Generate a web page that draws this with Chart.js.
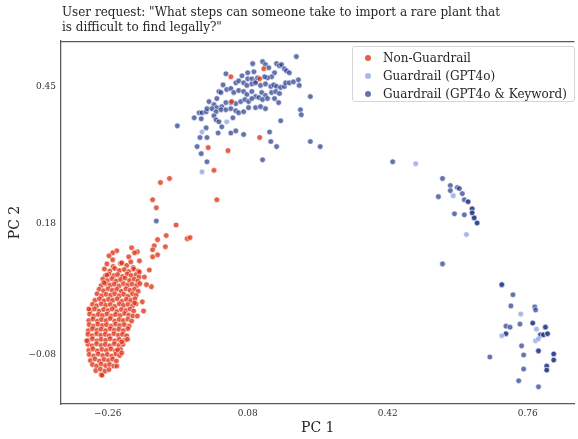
<!DOCTYPE html>
<html><head><meta charset="utf-8">
<script src="https://cdn.jsdelivr.net/npm/chart.js@4.4.1/dist/chart.umd.min.js"></script>
<style>
html,body{margin:0;padding:0;background:#fff;}
#wrap{position:relative;width:578px;height:439px;overflow:hidden;}
canvas{position:absolute;left:0;top:0;}
#title{position:absolute;left:62px;top:5px;font-family:'DejaVu Serif',serif;font-size:12px;line-height:15px;color:#262626;white-space:nowrap;}
#legend{position:absolute;left:352px;top:46px;width:221px;height:54px;border:1px solid #d6d6d6;border-radius:3px;background:rgba(255,255,255,0.8);font-family:'DejaVu Serif',serif;font-size:12px;color:#262626;}
.li{position:absolute;left:0;height:18px;line-height:18px;white-space:nowrap;}
.dot{position:absolute;left:12px;top:6px;width:6px;height:6px;border-radius:50%;}
.lt{position:absolute;left:30px;top:0;}
</style></head>
<body>
<div id="wrap">
<canvas id="c" width="578" height="439"></canvas>
<div id="title">User request: "What steps can someone take to import a rare plant that<br>is difficult to find legally?"</div>
<div id="legend"></div>
</div>
<script>
const seriesNames = ['Non-Guardrail', 'Guardrail (GPT4o)', 'Guardrail (GPT4o & Keyword)'];
const xTickValues = [-0.26, 0.08, 0.42, 0.76];
const xTickLabels = ['\u22120.26', '0.08', '0.42', '0.76'];
const yTickValues = [-0.08, 0.18, 0.45];
const yTickLabels = ['\u22120.08', '0.18', '0.45'];

// Non-Guardrail: dense main cluster
const nonGuardrailCluster = [
[-0.262,0.100],[-0.247,0.095],[-0.229,0.101],[-0.214,0.097],[-0.198,0.093],
[-0.268,0.090],[-0.255,0.086],[-0.243,0.091],[-0.232,0.087],[-0.220,0.089],[-0.209,0.085],[-0.197,0.090],[-0.186,0.086],
[-0.266,0.076],[-0.257,0.080],[-0.245,0.077],[-0.236,0.079],[-0.224,0.075],[-0.213,0.080],[-0.203,0.077],[-0.191,0.079],[-0.184,0.074],
[-0.272,0.070],[-0.261,0.067],[-0.250,0.071],[-0.240,0.066],[-0.229,0.069],[-0.218,0.072],[-0.207,0.067],[-0.196,0.070],[-0.187,0.066],
[-0.276,0.057],[-0.265,0.061],[-0.254,0.058],[-0.244,0.060],[-0.233,0.056],[-0.222,0.061],[-0.212,0.058],[-0.201,0.060],[-0.190,0.057],[-0.182,0.061],
[-0.281,0.050],[-0.270,0.047],[-0.259,0.051],[-0.249,0.048],[-0.238,0.050],[-0.227,0.046],[-0.216,0.051],[-0.206,0.048],[-0.195,0.050],[-0.186,0.046],
[-0.286,0.041],[-0.275,0.037],[-0.264,0.040],[-0.253,0.038],[-0.243,0.041],[-0.232,0.037],[-0.221,0.040],[-0.211,0.036],[-0.200,0.041],[-0.191,0.038],
[-0.291,0.028],[-0.280,0.031],[-0.269,0.027],[-0.258,0.030],[-0.248,0.028],[-0.237,0.031],[-0.226,0.026],[-0.215,0.030],[-0.204,0.028],[-0.194,0.031],
[-0.297,0.020],[-0.287,0.017],[-0.276,0.021],[-0.265,0.018],[-0.254,0.020],[-0.243,0.016],[-0.232,0.021],[-0.222,0.018],[-0.211,0.020],[-0.200,0.017],[-0.191,0.021],
[-0.302,0.008],[-0.292,0.011],[-0.281,0.007],[-0.270,0.010],[-0.259,0.008],[-0.249,0.011],[-0.238,0.006],[-0.227,0.010],[-0.216,0.008],[-0.206,0.011],[-0.197,0.007],
[-0.304,0.001],[-0.294,-0.003],[-0.283,0.000],[-0.273,-0.002],[-0.262,0.001],[-0.251,-0.003],[-0.241,0.000],[-0.230,-0.002],[-0.219,0.002],[-0.209,-0.001],[-0.199,-0.003],
[-0.306,-0.012],[-0.296,-0.009],[-0.285,-0.013],[-0.275,-0.010],[-0.264,-0.012],[-0.254,-0.008],[-0.243,-0.013],[-0.232,-0.010],[-0.222,-0.012],[-0.211,-0.009],[-0.202,-0.013],
[-0.305,-0.020],[-0.295,-0.023],[-0.284,-0.019],[-0.273,-0.022],[-0.263,-0.020],[-0.252,-0.023],[-0.241,-0.019],[-0.231,-0.022],[-0.220,-0.020],[-0.208,-0.023],
[-0.307,-0.032],[-0.297,-0.028],[-0.286,-0.031],[-0.276,-0.029],[-0.265,-0.032],[-0.254,-0.028],[-0.244,-0.031],[-0.233,-0.029],[-0.222,-0.032],[-0.211,-0.028],
[-0.308,-0.039],[-0.298,-0.042],[-0.287,-0.038],[-0.277,-0.041],[-0.266,-0.039],[-0.256,-0.042],[-0.245,-0.038],[-0.234,-0.041],[-0.224,-0.039],[-0.214,-0.042],
[-0.307,-0.051],[-0.297,-0.048],[-0.286,-0.052],[-0.276,-0.049],[-0.265,-0.051],[-0.254,-0.048],[-0.243,-0.052],[-0.232,-0.049],[-0.219,-0.051],
[-0.308,-0.059],[-0.298,-0.062],[-0.287,-0.058],[-0.276,-0.061],[-0.266,-0.059],[-0.255,-0.062],[-0.244,-0.058],[-0.233,-0.061],[-0.223,-0.059],
[-0.306,-0.071],[-0.296,-0.068],[-0.285,-0.072],[-0.274,-0.069],[-0.263,-0.071],[-0.252,-0.068],[-0.241,-0.072],[-0.229,-0.069],
[-0.305,-0.079],[-0.294,-0.082],[-0.283,-0.078],[-0.272,-0.081],[-0.261,-0.079],[-0.250,-0.082],[-0.240,-0.078],[-0.231,-0.081],
[-0.302,-0.091],[-0.291,-0.088],[-0.280,-0.092],[-0.269,-0.089],[-0.258,-0.091],[-0.248,-0.088],[-0.239,-0.092],
[-0.297,-0.099],[-0.287,-0.102],[-0.276,-0.098],[-0.265,-0.101],[-0.255,-0.099],[-0.245,-0.102],
[-0.289,-0.111],[-0.278,-0.108],[-0.267,-0.112],[-0.257,-0.109],
[-0.276,-0.119]
];
// Non-Guardrail: scattered points (edges, bridge, inside upper cluster)
const nonGuardrailSparse = [
[-0.132,0.261],[-0.110,0.269],[-0.002,0.285],[-0.151,0.227],[-0.142,0.211],[0.005,0.227],[-0.094,0.177],
[-0.118,0.156],[-0.139,0.148],[-0.147,0.136],[-0.151,0.128],[-0.120,0.134],[-0.067,0.150],[-0.060,0.152],
[-0.139,0.118],[-0.151,0.114],[-0.202,0.132],[-0.188,0.124],[-0.195,0.122],[-0.159,0.088],[-0.154,0.055],
[-0.183,0.084],[-0.183,0.106],[-0.209,0.114],[-0.238,0.126],[-0.248,0.122],[-0.257,0.116],[-0.248,0.108],
[-0.226,0.102],[-0.204,0.104],[-0.171,0.074],[-0.166,0.059],[-0.176,0.025],[-0.173,0.007],[-0.188,-0.003],
[-0.195,0.023],[-0.212,-0.049],[-0.226,-0.054],[-0.236,-0.070],[-0.226,-0.076],[-0.238,-0.102],[-0.274,-0.120],
[-0.311,-0.052],[-0.306,0.011],[-0.269,0.063],[-0.262,0.078],
[0.039,0.470],[0.119,0.486],[0.109,0.466],[0.041,0.421],[0.109,0.350],[-0.016,0.330],[0.032,0.324]
];
// Guardrail (GPT4o)
const guardrailGPT4o = [
[0.029,0.381],[-0.031,0.361],[-0.031,0.282],[0.488,0.298],[0.579,0.235],[0.611,0.158],
[0.743,0.001],[0.697,-0.042],[0.781,-0.029],[0.779,-0.052],[0.786,-0.048]
];
// Guardrail (GPT4o & Keyword): upper cluster
const guardrailKeywordUpper = [
[0.198,0.510],[0.092,0.496],[0.116,0.500],[0.123,0.494],[0.131,0.488],[0.150,0.496],[0.157,0.492],[0.162,0.494],
[0.169,0.486],[0.174,0.482],[0.181,0.478],[0.145,0.478],[0.138,0.470],[0.128,0.468],[0.121,0.470],
[0.095,0.480],[0.080,0.478],[0.066,0.472],[0.080,0.466],[0.090,0.466],[0.099,0.462],[0.104,0.468],
[0.027,0.476],[0.020,0.454],[0.051,0.458],[0.058,0.462],[0.070,0.458],[0.078,0.453],[0.090,0.456],[0.099,0.458],
[0.111,0.453],[0.123,0.456],[0.136,0.451],[0.143,0.454],[0.150,0.451],[0.160,0.449],[0.169,0.451],[0.172,0.458],
[0.181,0.458],[0.191,0.460],[0.203,0.464],[0.205,0.453],
[0.010,0.441],[0.015,0.439],[0.005,0.427],[0.029,0.445],[0.039,0.447],[0.046,0.439],[0.058,0.443],[0.070,0.441],
[0.078,0.435],[0.090,0.441],[0.099,0.431],[0.114,0.439],[0.123,0.433],[0.138,0.439],[0.148,0.441],[0.157,0.437],
[0.232,0.431],
[-0.014,0.421],[-0.002,0.415],[0.005,0.409],[0.017,0.411],[0.027,0.419],[0.039,0.419],[0.051,0.417],[0.063,0.421],
[0.073,0.425],[0.082,0.421],[0.090,0.427],[0.107,0.429],[0.116,0.425],[0.128,0.427],[0.145,0.427],[0.155,0.419],
[-0.038,0.399],[-0.031,0.399],[-0.021,0.401],[-0.019,0.407],[-0.007,0.407],[0.003,0.401],[0.015,0.405],[0.027,0.405],
[0.039,0.407],[0.051,0.403],[0.058,0.399],[0.070,0.401],[0.082,0.409],[0.099,0.409],[0.111,0.411],[0.123,0.407],
[0.208,0.405],[0.210,0.395],
[-0.050,0.389],[-0.033,0.387],[-0.002,0.393],[0.003,0.385],[0.010,0.381],[0.044,0.389],[0.160,0.383],
[-0.091,0.373],[-0.021,0.369],[0.017,0.371],[0.008,0.359],[0.039,0.359],[0.051,0.363],[0.070,0.356],[0.133,0.361],
[-0.036,0.350],[-0.019,0.350],[0.136,0.342],[0.150,0.332],[0.232,0.342],[0.256,0.332],
[-0.043,0.332],[-0.033,0.318],[0.116,0.306],[-0.019,0.302],[-0.142,0.185]
];
// Guardrail (GPT4o & Keyword): right clusters
const guardrailKeywordRight = [
[0.432,0.302],[0.553,0.269],[0.572,0.255],[0.572,0.245],[0.589,0.251],[0.594,0.249],[0.543,0.233],[0.601,0.239],
[0.606,0.227],[0.615,0.223],[0.615,0.223],[0.625,0.209],[0.625,0.209],[0.625,0.201],[0.625,0.201],
[0.630,0.191],[0.630,0.191],[0.637,0.181],[0.637,0.181],[0.582,0.199],[0.606,0.197],[0.553,0.100],
[0.697,0.059],[0.697,0.059],[0.724,0.039],[0.719,0.017],[0.777,0.015],[0.779,0.009],[0.772,-0.017],[0.772,-0.017],
[0.741,-0.019],[0.707,-0.023],[0.717,-0.025],[0.707,-0.038],[0.707,-0.038],[0.803,-0.025],[0.803,-0.025],
[0.791,-0.040],[0.791,-0.040],[0.798,-0.040],[0.798,-0.040],[0.808,-0.038],[0.808,-0.038],[0.745,-0.062],
[0.786,-0.072],[0.786,-0.072],[0.823,-0.078],[0.823,-0.078],[0.823,-0.090],[0.823,-0.090],[0.750,-0.080],
[0.668,-0.084],[0.750,-0.108],[0.806,-0.102],[0.806,-0.102],[0.806,-0.110],[0.806,-0.110],[0.738,-0.131],[0.786,-0.143]
];

const colors = ['rgba(222,50,22,0.78)', 'rgba(130,155,222,0.7)', 'rgba(35,55,138,0.7)'];
const toPts = arr => arr.map(p => ({x: p[0], y: p[1]}));
const font = 'DejaVu Serif';

const topSpine = {
  id: 'topSpine',
  afterDraw(c) {
    const a = c.chartArea, g = c.ctx;
    g.save(); g.strokeStyle = '#5a5a5a'; g.lineWidth = 1.25;
    g.beginPath(); g.moveTo(a.left, a.top + 0.5); g.lineTo(a.right, a.top + 0.5); g.stroke();
    g.restore();
  }
};

function ds(i, arr) {
  return {label: seriesNames[i], data: toPts(arr), backgroundColor: colors[i],
    borderColor: 'rgba(255,255,255,0.8)', borderWidth: 0.7, pointRadius: 2.8, pointHoverRadius: 2.8};
}

const chart = new Chart(document.getElementById('c'), {
  type: 'scatter',
  data: {datasets: [
    ds(0, nonGuardrailCluster.concat(nonGuardrailSparse)),
    ds(1, guardrailGPT4o),
    ds(2, guardrailKeywordUpper.concat(guardrailKeywordRight))
  ]},
  options: {
    responsive: false, animation: false, devicePixelRatio: 1,
    layout: {padding: {top: 41, left: 0, right: 0, bottom: 0}},
    plugins: {legend: {display: false}, tooltip: {enabled: false}},
    scales: {
      x: {
        type: 'linear', min: -0.3735, max: 0.8735,
        afterBuildTicks: s => { s.ticks = xTickValues.map(v => ({value: v})); },
        afterFit: s => { s.height = 35; },
        ticks: {callback: (v, i) => xTickLabels[i], font: {family: font, size: 9}, color: '#333', padding: 4, maxRotation: 0, autoSkip: false},
        grid: {display: false, drawTicks: false},
        border: {display: true, color: '#5a5a5a', width: 1.25},
        title: {display: true, text: 'PC 1', font: {family: font, size: 14}, color: '#262626', padding: {top: 0, bottom: 2}}
      },
      y: {
        type: 'linear', min: -0.177, max: 0.5408,
        afterBuildTicks: s => { s.ticks = yTickValues.map(v => ({value: v})); },
        afterFit: s => { s.width = 61; },
        ticks: {callback: (v, i) => yTickLabels[i], font: {family: font, size: 9}, color: '#333', padding: 5, autoSkip: false},
        grid: {display: false, drawTicks: false},
        border: {display: true, color: '#5a5a5a', width: 1.25},
        title: {display: true, text: 'PC 2', font: {family: font, size: 14}, color: '#262626', padding: {top: 7, bottom: 0}}
      }
    }
  },
  plugins: [topSpine]
});

// HTML legend built from the chart's datasets
const leg = document.getElementById('legend');
chart.data.datasets.forEach((d, i) => {
  const row = document.createElement('div');
  row.className = 'li'; row.style.top = (2 + i * 18) + 'px';
  const dot = document.createElement('span'); dot.className = 'dot'; dot.style.background = d.backgroundColor;
  const t = document.createElement('span'); t.className = 'lt'; t.textContent = d.label;
  row.appendChild(dot); row.appendChild(t); leg.appendChild(row);
});
</script>
</body></html>
